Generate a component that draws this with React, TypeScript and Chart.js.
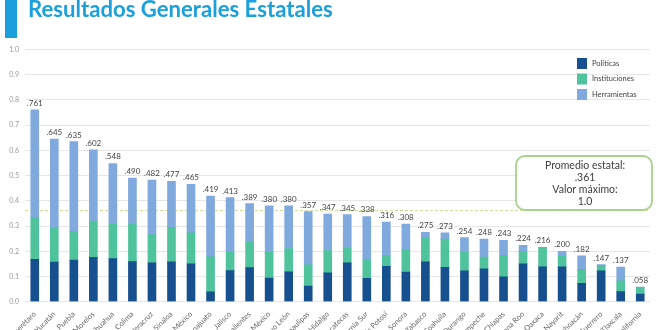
import React, { useEffect, useRef } from "react";
import { Chart, registerables } from "chart.js";

Chart.register(...registerables);

const states = [
  "Querétaro", "Yucatán", "Puebla", "Morelos", "Chihuahua", "Colima", "Veracruz", "Sinaloa",
  "Ciudad de México", "Guanajuato", "Jalisco", "Aguascalientes", "Estado de México", "Nuevo León",
  "Tamaulipas", "Hidalgo", "Zacatecas", "Baja California Sur", "San Luis Potosí", "Sonora",
  "Tabasco", "Coahuila", "Durango", "Campeche", "Chiapas", "Quintana Roo", "Oaxaca", "Nayarit",
  "Michoacán", "Guerrero", "Tlaxcala", "Baja California",
];

const totals = [
  0.761, 0.645, 0.635, 0.602, 0.548, 0.49, 0.482, 0.477, 0.465, 0.419, 0.413, 0.389, 0.38, 0.38,
  0.357, 0.347, 0.345, 0.338, 0.316, 0.308, 0.275, 0.273, 0.254, 0.248, 0.243, 0.224, 0.216, 0.2,
  0.182, 0.147, 0.137, 0.058,
];

const politicas = [
  0.168, 0.157, 0.165, 0.176, 0.171, 0.159, 0.154, 0.158, 0.15, 0.039, 0.123, 0.135, 0.094, 0.118,
  0.062, 0.114, 0.154, 0.093, 0.14, 0.117, 0.158, 0.136, 0.122, 0.13, 0.099, 0.15, 0.138, 0.138,
  0.073, 0.122, 0.04, 0.03,
];

const instituciones = [
  0.167, 0.135, 0.113, 0.144, 0.139, 0.151, 0.111, 0.137, 0.123, 0.139, 0.076, 0.101, 0.103, 0.093,
  0.084, 0.089, 0.058, 0.073, 0.043, 0.091, 0.095, 0.112, 0.077, 0.047, 0.084, 0.047, 0.078, 0.043,
  0.055, 0.022, 0.043, 0.027,
];

const herramientas = [
  0.426, 0.353, 0.357, 0.282, 0.238, 0.18, 0.217, 0.182, 0.192, 0.241, 0.214, 0.153, 0.183, 0.169,
  0.211, 0.144, 0.133, 0.172, 0.133, 0.1, 0.022, 0.025, 0.055, 0.071, 0.06, 0.027, 0, 0.019,
  0.054, 0.003, 0.054, 0.001,
];

const seriesNames = ["Políticas", "Instituciones", "Herramientas"];
const seriesColors = ["#17508f", "#4fc39b", "#80a9dd"];

const promedio = 0.361;
const valorMaximo = 1.0;
const titleText = "Resultados Generales Estatales";
const boxLines = ["Promedio estatal:", ".361", "Valor máximo:", "1.0"];

const FONT = "Lato, 'DejaVu Sans', sans-serif";

const fmt3 = (v: number) => v.toFixed(3).replace(/^0/, "");

const decorPlugin = {
  id: "decor",
  beforeDatasetsDraw(chart: any) {
    const { ctx, chartArea, scales } = chart;
    const y = scales.y.getPixelForValue(promedio);
    ctx.save();
    ctx.strokeStyle = "#c9da8f";
    ctx.lineWidth = 1;
    ctx.setLineDash([3, 2]);
    ctx.beginPath();
    ctx.moveTo(chartArea.left, y);
    ctx.lineTo(chartArea.right, y);
    ctx.stroke();
    ctx.restore();
  },
  afterDraw(chart: any) {
    const { ctx, scales } = chart;
    ctx.save();
    // title bar + title
    ctx.fillStyle = "#1ba0dc";
    ctx.fillRect(5, 0, 12, 38);
    let size = 22;
    ctx.font = `bold ${size}px ${FONT}`;
    const w = ctx.measureText(titleText).width;
    size = size * (305 / w);
    ctx.font = `bold ${size}px ${FONT}`;
    ctx.textBaseline = "alphabetic";
    ctx.textAlign = "left";
    ctx.fillText(titleText, 28, 17);

    // value labels
    ctx.fillStyle = "#444";
    ctx.font = `8px ${FONT}`;
    ctx.textAlign = "center";
    totals.forEach((t, i) => {
      const x = scales.x.getPixelForValue(i);
      const yy = scales.y.getPixelForValue(t) - 4;
      ctx.fillText(fmt3(t), x, yy);
    });

    // legend
    ctx.textAlign = "left";
    ctx.textBaseline = "middle";
    ctx.font = `7.5px ${FONT}`;
    chart.data.datasets.forEach((ds: any, i: number) => {
      const ly = 58 + i * 15.5;
      ctx.fillStyle = ds.backgroundColor;
      ctx.fillRect(577, ly, 10, 11);
      ctx.fillStyle = "#444";
      ctx.fillText(ds.label, 592, ly + 5.5);
    });

    // annotation box
    const bx = 516, by = 156, bw = 136, bh = 54, r = 9;
    ctx.beginPath();
    ctx.moveTo(bx + r, by);
    ctx.arcTo(bx + bw, by, bx + bw, by + bh, r);
    ctx.arcTo(bx + bw, by + bh, bx, by + bh, r);
    ctx.arcTo(bx, by + bh, bx, by, r);
    ctx.arcTo(bx, by, bx + bw, by, r);
    ctx.closePath();
    ctx.fillStyle = "#ffffff";
    ctx.fill();
    ctx.strokeStyle = "#a9d18e";
    ctx.lineWidth = 1.8;
    ctx.stroke();
    ctx.fillStyle = "#404040";
    ctx.font = `10.5px ${FONT}`;
    ctx.textAlign = "center";
    boxLines.forEach((l, i) => {
      ctx.fillText(l, bx + bw / 2 + 1, 165.5 + i * 12);
    });
    ctx.restore();
  },
};

export default function App() {
  const ref = useRef<HTMLCanvasElement | null>(null);
  useEffect(() => {
    document.body.style.margin = "0";
    if (!ref.current) return;
    const chart = new Chart(ref.current, {
      type: "bar",
      data: {
        labels: states,
        datasets: [
          { label: seriesNames[0], data: politicas, backgroundColor: seriesColors[0], barThickness: 8 },
          { label: seriesNames[1], data: instituciones, backgroundColor: seriesColors[1], barThickness: 8 },
          { label: seriesNames[2], data: herramientas, backgroundColor: seriesColors[2], barThickness: 8 },
        ],
      },
      options: {
        responsive: false,
        animation: false,
        layout: { padding: { top: 49.5, right: 10, left: 0, bottom: 0 } },
        plugins: {
          legend: { display: false },
          title: { display: false },
          tooltip: { enabled: false },
        },
        scales: {
          x: {
            stacked: true,
            grid: { display: false },
            border: { display: false },
            ticks: {
              autoSkip: false,
              maxRotation: 45,
              minRotation: 45,
              color: "#666",
              font: { family: FONT, size: 7.5 },
              padding: 0,
            },
            afterFit(scale: any) {
              scale.height = 28.3;
            },
          },
          y: {
            stacked: true,
            min: 0,
            max: valorMaximo,
            grid: { color: "#e6e6e6", drawTicks: false },
            border: { display: false },
            ticks: {
              stepSize: 0.1,
              color: "#999",
              font: { family: FONT, size: 7 },
              padding: 6,
              callback: (v: any) => Number(v).toFixed(1),
            },
            afterFit(scale: any) {
              scale.width = 25;
            },
          },
        },
      },
      plugins: [decorPlugin],
    });
    return () => chart.destroy();
  }, []);
  return (
    <div style={{ width: 660, height: 330, overflow: "hidden" }}>
      <canvas ref={ref} width={660} height={330} style={{ display: "block" }} />
    </div>
  );
}
